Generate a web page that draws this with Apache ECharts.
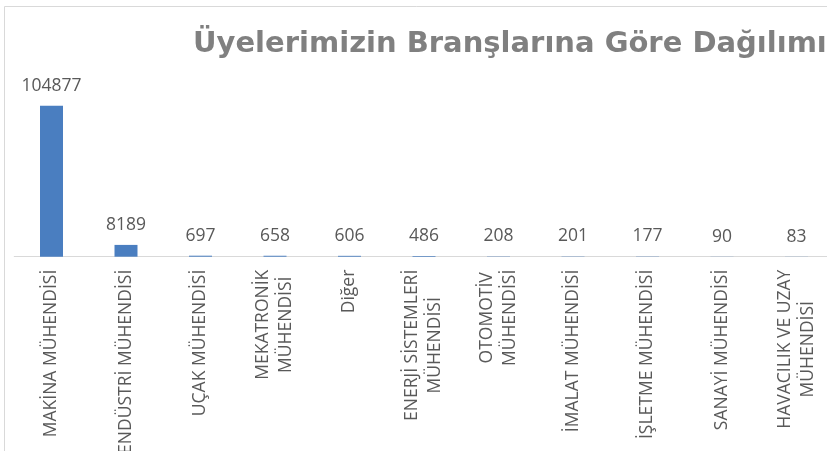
<!DOCTYPE html>
<html>
<head>
<meta charset="utf-8">
<script src="https://cdn.jsdelivr.net/npm/echarts@6/dist/echarts.min.js"></script>
<style>
  html, body { margin: 0; padding: 0; background: #fff; }
  #main { width: 827px; height: 451px; }
</style>
</head>
<body>
<div id="main"></div>
<script>
// branşlar ve üye sayıları
const branches = [
  'MAKİNA MÜHENDİSİ',
  'ENDÜSTRİ MÜHENDİSİ',
  'UÇAK MÜHENDİSİ',
  'MEKATRONİK\nMÜHENDİSİ',
  'Diğer',
  'ENERJİ SİSTEMLERİ\nMÜHENDİSİ',
  'OTOMOTİV\nMÜHENDİSİ',
  'İMALAT MÜHENDİSİ',
  'İŞLETME MÜHENDİSİ',
  'SANAYİ MÜHENDİSİ',
  'HAVACILIK VE UZAY\nMÜHENDİSİ'
]
const members = [104877, 8189, 697, 658, 606, 486, 208, 201, 177, 90, 83]
const chartTitle = 'Üyelerimizin Branşlarına Göre Dağılımı'

const textColor = '#595959'
const font = '"Open Sans", sans-serif'

let myChart = echarts.init(document.getElementById('main'))
let option = {
  animation: false,
  title: {
    text: chartTitle,
    left: 188,
    top: 25,
    textStyle: {
      fontFamily: '"DejaVu Sans", sans-serif',
      fontWeight: 'bold',
      fontSize: 29,
      color: '#808080'
    }
  },
  graphic: [
    {
      // dış çerçeve
      type: 'rect',
      shape: { x: 4.5, y: 6.5, width: 900, height: 500 },
      style: { fill: 'none', stroke: '#d9d9d9', lineWidth: 1 },
      silent: true
    }
  ],
  grid: {
    left: 14.25,
    right: -6.75,
    top: 105.5,
    bottom: 194.3,
    containLabel: false,
    outerBoundsMode: 'none'
  },
  xAxis: {
    type: 'category',
    data: branches,
    axisLine: { lineStyle: { color: '#d9d9d9', width: 1 } },
    axisTick: { show: false },
    axisLabel: {
      interval: 0,
      rotate: 90,
      margin: 13,
      color: textColor,
      fontFamily: font,
      fontSize: 17.5,
      lineHeight: 23,
      formatter: function (v) {
        return v.split('\n').map(function (l) { return '{c|' + l + '}' }).join('\n')
      },
      rich: {
        c: {
          align: 'center',
          color: textColor,
          fontFamily: font,
          fontSize: 17.5,
          lineHeight: 23
        }
      }
    }
  },
  yAxis: {
    type: 'value',
    min: 0,
    max: 105000,
    show: false,
    splitLine: { show: false }
  },
  series: [
    {
      type: 'bar',
      data: members,
      barWidth: 23,
      itemStyle: { color: '#4a7ec0' },
      label: {
        show: true,
        position: 'top',
        distance: 11,
        color: textColor,
        fontFamily: font,
        fontSize: 17.5
      }
    }
  ]
}
myChart.setOption(option)
</script>
</body>
</html>
